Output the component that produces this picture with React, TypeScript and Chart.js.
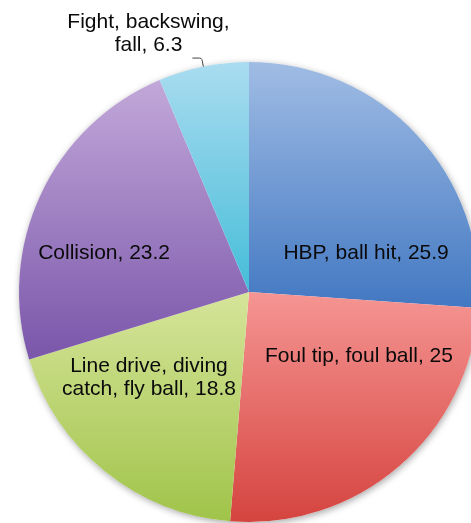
import React, { useEffect, useRef } from "react";
import { Chart, registerables } from "chart.js";

Chart.register(...registerables);

const categories: string[][] = [
  ["HBP, ball hit, 25.9"],
  ["Foul tip, foul ball, 25"],
  ["Line drive, diving", "catch, fly ball, 18.8"],
  ["Collision, 23.2"],
  ["Fight, backswing,", "fall, 6.3"],
];
const values: number[] = [25.9, 25, 18.8, 23.2, 6.3];
const topColors: string[] = ["#a0bce4", "#f59593", "#d6e49a", "#c2a8d9", "#aadcf0"];
const bottomColors: string[] = ["#4278c2", "#d5443f", "#a0c44a", "#7a56aa", "#45bdd8"];
// label anchor offsets as fractions of radius (dx, dy)
const labelOffsets: number[][] = [
  [0.509, -0.17],
  [0.478, 0.278],
  [-0.435, 0.374],
  [-0.63, -0.17],
  [-0.437, -1.124],
];

function sliceRange(idx: number): [number, number] {
  const total = values.reduce((a, b) => a + b, 0);
  let acc = 0;
  for (let i = 0; i < idx; i++) acc += values[i];
  const s = (acc / total) * 360;
  const e = ((acc + values[idx]) / total) * 360;
  return [s, e];
}

export default function App() {
  const ref = useRef<HTMLCanvasElement | null>(null);
  useEffect(() => {
    if (!ref.current) return;
    const bg = (ctx: any) => {
      const chart = ctx.chart;
      const ca = chart.chartArea;
      if (!ca) return topColors[ctx.dataIndex];
      const cx = (ca.left + ca.right) / 2;
      const cy = (ca.top + ca.bottom) / 2;
      const r = Math.min(ca.right - ca.left, ca.bottom - ca.top) / 2;
      const [s, e] = sliceRange(ctx.dataIndex);
      const ys = [cy, cy - r * Math.cos((s * Math.PI) / 180), cy - r * Math.cos((e * Math.PI) / 180)];
      if (s <= 0.001 || e >= 359.999) ys.push(cy - r);
      if (s <= 180 && e >= 180) ys.push(cy + r);
      const y0 = Math.min(...ys);
      const y1 = Math.max(...ys);
      const g = chart.ctx.createLinearGradient(0, y0, 0, y1);
      g.addColorStop(0, topColors[ctx.dataIndex]);
      g.addColorStop(1, bottomColors[ctx.dataIndex]);
      return g;
    };
    const shadowPlugin = {
      id: "shadow",
      beforeDatasetsDraw(chart: any) {
        const arc = chart.getDatasetMeta(0).data[0];
        if (!arc) return;
        const c = chart.ctx;
        c.save();
        c.beginPath();
        c.arc(arc.x, arc.y, arc.outerRadius, 0, Math.PI * 2);
        c.fillStyle = "#ffffff";
        c.shadowColor = "rgba(0,0,0,0.35)";
        c.shadowBlur = 7;
        c.shadowOffsetX = 1;
        c.shadowOffsetY = 2;
        c.fill();
        c.restore();
      },
    };
    const labelPlugin = {
      id: "labels",
      afterDatasetsDraw(chart: any) {
        const meta = chart.getDatasetMeta(0);
        const c = chart.ctx;
        c.save();
        c.font = "21px 'Liberation Sans', Arial, sans-serif";
        c.fillStyle = "#0a0a0a";
        c.textAlign = "center";
        c.textBaseline = "middle";
        const lh = 23;
        meta.data.forEach((arc: any, i: number) => {
          const R = arc.outerRadius;
          const x = arc.x + labelOffsets[i][0] * R;
          const y = arc.y + labelOffsets[i][1] * R;
          const lines = categories[i];
          lines.forEach((ln, k) => {
            c.fillText(ln, x, y + (k - (lines.length - 1) / 2) * lh);
          });
          if (i === 4) {
            const mid = (arc.startAngle + arc.endAngle) / 2;
            const px = arc.x + R * Math.cos(mid);
            const py = arc.y + R * Math.sin(mid);
            c.strokeStyle = "#444444";
            c.lineWidth = 1;
            c.beginPath();
            c.moveTo(px, py);
            c.lineTo(px - 1.5, py - 7);
            c.quadraticCurveTo(px - 2, py - 8.5, px - 4, py - 8.5);
            c.lineTo(px - 11, py - 8.5);
            c.stroke();
          }
        });
        c.restore();
      },
    };
    const chart = new Chart(ref.current, {
      type: "pie",
      data: {
        labels: categories.map((l) => l.join(" ")),
        datasets: [
          {
            data: values,
            backgroundColor: bg,
            borderWidth: 0,
          },
        ],
      },
      options: {
        responsive: false,
        animation: false,
        layout: { padding: { top: 62, bottom: 1, left: 19, right: 19 } },
        plugins: {
          legend: { display: false },
          tooltip: { enabled: false },
        },
      },
      plugins: [shadowPlugin, labelPlugin],
    });
    return () => chart.destroy();
  }, []);
  return (
    <div
      style={{
        position: "absolute",
        left: 0,
        top: 0,
        width: 471,
        height: 523,
        overflow: "hidden",
        background: "#ffffff",
      }}
    >
      <canvas ref={ref} width={498} height={523} style={{ display: "block" }} />
    </div>
  );
}
